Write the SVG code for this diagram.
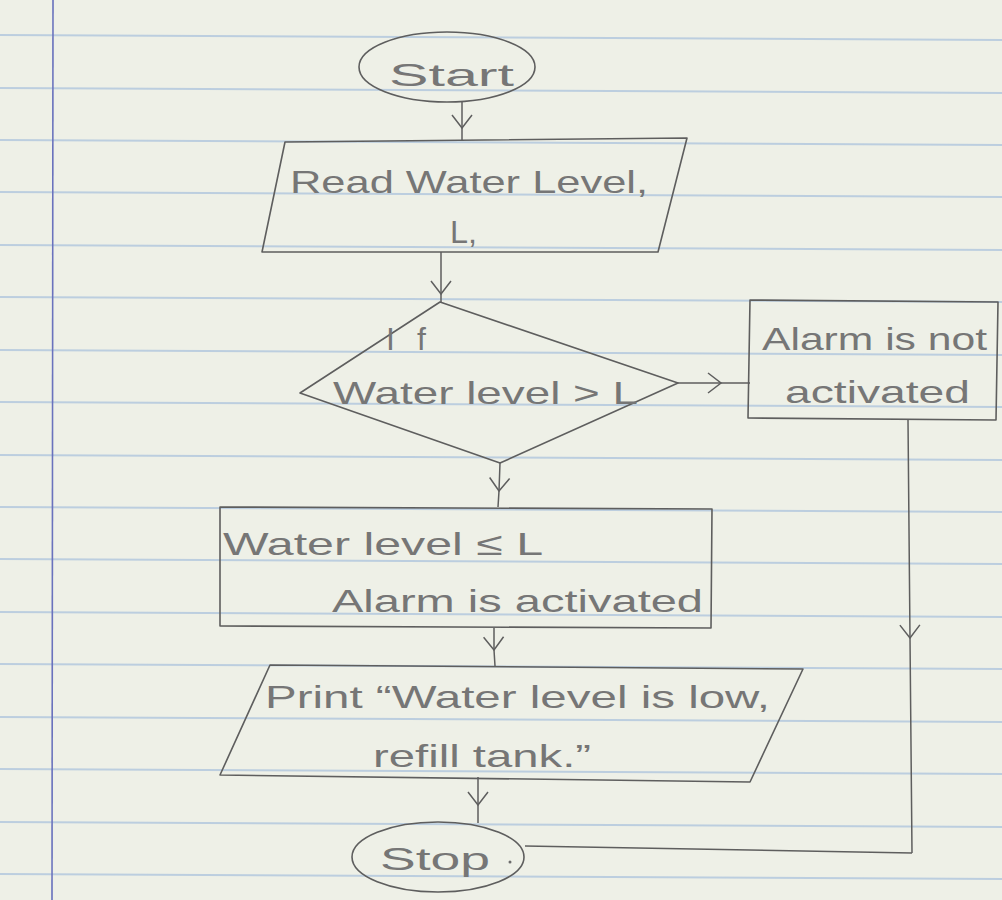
<svg xmlns="http://www.w3.org/2000/svg" width="1002" height="900" viewBox="0 0 1002 900">
<style>
.paper{fill:#eef0e7}
.rule{stroke:#bccedf;stroke-width:2;fill:none}
.margin{stroke:#6a72bd;stroke-width:1.6;fill:none}
.shape{fill:none;stroke:#5e5e5e;stroke-width:1.6;stroke-linejoin:round}
.conn{fill:none;stroke:#5e5e5e;stroke-width:1.5;marker-mid:url(#v)}
.plain{fill:none;stroke:#5e5e5e;stroke-width:1.5}
.t{font-family:"Liberation Sans",Arial,sans-serif;fill:#767676;font-size:32px}
</style>
<defs>
<marker id="v" markerUnits="userSpaceOnUse" viewBox="-16 -14 20 28" refX="0" refY="0" markerWidth="20" markerHeight="28" orient="auto">
<path d="M-13,-10 L0,0 L-13,10" fill="none" stroke="#5e5e5e" stroke-width="1.5"/>
</marker>
</defs>
<rect class="paper" x="0" y="0" width="1002" height="900"/>
<g id="ruling">
<path class="rule" d="M0,35 L1002,40"/>
<path class="rule" d="M0,88 L1002,93"/>
<path class="rule" d="M0,140 L1002,145"/>
<path class="rule" d="M0,192 L1002,197"/>
<path class="rule" d="M0,245 L1002,250"/>
<path class="rule" d="M0,297 L1002,302"/>
<path class="rule" d="M0,350 L1002,355"/>
<path class="rule" d="M0,402 L1002,407"/>
<path class="rule" d="M0,455 L1002,460"/>
<path class="rule" d="M0,507 L1002,512"/>
<path class="rule" d="M0,559 L1002,564"/>
<path class="rule" d="M0,612 L1002,617"/>
<path class="rule" d="M0,664 L1002,669"/>
<path class="rule" d="M0,717 L1002,722"/>
<path class="rule" d="M0,769 L1002,774"/>
<path class="rule" d="M0,822 L1002,827"/>
<path class="rule" d="M0,874 L1002,879"/>
<path class="margin" d="M53,0 L52,900"/>
</g>
<g id="connectors">
<path class="conn" d="M462,102 L462,128 L462,141"/>
<path class="conn" d="M441,252 L441,294 L441,302"/>
<path class="conn" d="M678,383 L721,383 L750,383"/>
<path class="conn" d="M500,463 L499,491 L498,507"/>
<path class="conn" d="M494,628 L494,650 L495,666"/>
<path class="conn" d="M478,777 L478,805 L478,823"/>
<path class="conn" d="M908,420 L910,638 L912,853"/>
<path class="plain" d="M912,853 L525,846"/>
</g>
<g id="start">
<ellipse class="shape" cx="447" cy="67" rx="88" ry="35"/>
<text class="t" x="389" y="86" font-size="40" textLength="125" lengthAdjust="spacingAndGlyphs">Start</text>
</g>
<g id="read">
<polygon class="shape" points="285,142 687,138 658,252 262,252"/>
<text class="t" x="290" y="193" font-size="36" textLength="358" lengthAdjust="spacingAndGlyphs">Read Water Level,</text>
<text class="t" x="450" y="243" font-size="36" textLength="27" lengthAdjust="spacingAndGlyphs">L,</text>
</g>
<g id="decision">
<polygon class="shape" points="440,302 678,383 500,463 300,393"/>
<text class="t" x="386" y="350" font-size="40" textLength="40" lengthAdjust="spacing">If</text>
<text class="t" x="333" y="404" font-size="34" textLength="305" lengthAdjust="spacingAndGlyphs">Water level &gt; L</text>
</g>
<g id="not-activated">
<polygon class="shape" points="750,300 998,302 996,420 748,418"/>
<text class="t" x="762" y="350" font-size="32" textLength="225" lengthAdjust="spacingAndGlyphs">Alarm is not</text>
<text class="t" x="785" y="403" font-size="32" textLength="185" lengthAdjust="spacingAndGlyphs">activated</text>
</g>
<g id="activated">
<polygon class="shape" points="220,507 712,509 711,628 220,626"/>
<text class="t" x="223" y="555" font-size="34" textLength="320" lengthAdjust="spacingAndGlyphs">Water level ≤ L</text>
<text class="t" x="332" y="612" font-size="34" textLength="371" lengthAdjust="spacingAndGlyphs">Alarm is activated</text>
</g>
<g id="print">
<polygon class="shape" points="270,665 803,669 750,782 220,775"/>
<text class="t" x="265" y="708" font-size="32" textLength="505" lengthAdjust="spacingAndGlyphs">Print “Water level is low,</text>
<text class="t" x="373" y="767" font-size="32" textLength="218" lengthAdjust="spacingAndGlyphs">refill tank.”</text>
</g>
<g id="stop">
<ellipse class="shape" cx="438" cy="857" rx="86" ry="35"/>
<text class="t" x="380" y="870" font-size="40" textLength="110" lengthAdjust="spacingAndGlyphs">Stop</text>
<circle cx="510" cy="862" r="1.5" fill="#6c6c6c"/>
</g>
</svg>
